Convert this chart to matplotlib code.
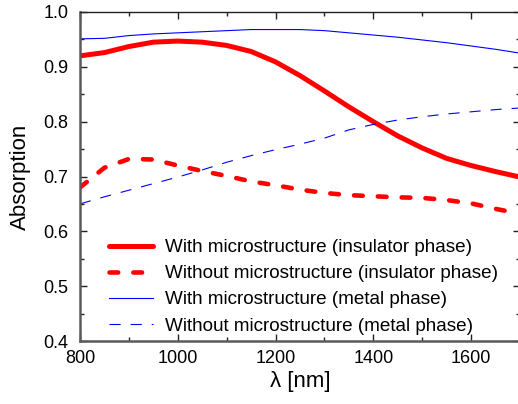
import matplotlib
matplotlib.use("Agg")
import matplotlib.pyplot as plt
from matplotlib.ticker import MultipleLocator, FormatStrFormatter

plt.rcParams['font.family'] = ['Liberation Sans', 'DejaVu Sans']

wavelength = [800, 850, 900, 950, 1000, 1050, 1100, 1150, 1200, 1250,
              1300, 1350, 1400, 1450, 1500, 1550, 1600, 1650, 1700]

with_micro_insulator = [0.920, 0.926, 0.937, 0.945, 0.947, 0.945, 0.939, 0.928, 0.909, 0.884,
                        0.856, 0.827, 0.800, 0.774, 0.752, 0.733, 0.720, 0.709, 0.699]
without_micro_insulator = [0.680, 0.716, 0.732, 0.731, 0.720, 0.710, 0.701, 0.691, 0.684, 0.676,
                           0.670, 0.666, 0.664, 0.662, 0.661, 0.657, 0.651, 0.641, 0.632]
with_micro_metal = [0.951, 0.952, 0.957, 0.960, 0.962, 0.964, 0.966, 0.968, 0.968, 0.968,
                    0.966, 0.962, 0.958, 0.954, 0.949, 0.944, 0.938, 0.932, 0.925]
without_micro_metal = [0.650, 0.663, 0.675, 0.687, 0.699, 0.712, 0.726, 0.738, 0.749, 0.759,
                       0.770, 0.785, 0.795, 0.803, 0.809, 0.814, 0.818, 0.822, 0.825]

labels = ["With microstructure (insulator phase)",
          "Without microstructure (insulator phase)",
          "With microstructure (metal phase)",
          "Without microstructure (metal phase)"]

fig = plt.figure(figsize=(5.18, 4.04), dpi=100)
# the right edge of the frame falls just past the canvas
ax = fig.add_axes([80/518, 63/404, 440/518, 329/404])

ax.plot(wavelength, with_micro_insulator, color='#ff0000', lw=3.6, label=labels[0],
        solid_capstyle='round', solid_joinstyle='round')
ax.plot(wavelength, without_micro_insulator, color='#ff0000', lw=3.3, label=labels[1],
        dashes=(1.9, 3.3), dash_capstyle='round', dash_joinstyle='round')
ax.plot(wavelength, with_micro_metal, color='#0000ff', lw=0.8, label=labels[2])
ax.plot(wavelength, without_micro_metal, color='#0000ff', lw=0.8, label=labels[3],
        dashes=(10, 9))

ax.set_xlim(800, 1700)
ax.set_ylim(0.4, 1.0)
ax.xaxis.set_major_locator(MultipleLocator(200))
ax.xaxis.set_minor_locator(MultipleLocator(100))
ax.yaxis.set_major_locator(MultipleLocator(0.1))
ax.yaxis.set_minor_locator(MultipleLocator(0.05))
ax.yaxis.set_major_formatter(FormatStrFormatter('%.1f'))

ax.tick_params(which='both', direction='in', top=True, right=True, labelsize=13,
               color='#222222', width=1.0)
ax.tick_params(which='major', length=5)
ax.tick_params(which='minor', length=3)
ax.tick_params(axis='x', which='major', pad=6.5)
ax.tick_params(axis='y', which='major', pad=8.5)

for side in ('left', 'bottom'):
    ax.spines[side].set_linewidth(1.8)
    ax.spines[side].set_color('#5a5a5a')
for side in ('top', 'right'):
    ax.spines[side].set_linewidth(1.0)
    ax.spines[side].set_color('#222222')

ax.set_xlabel('λ [nm]', fontsize=16, labelpad=3)
ax.set_ylabel('Absorption', fontsize=16, labelpad=9)

leg = ax.legend(loc='lower left', bbox_to_anchor=(0.028, -0.032), frameon=False,
                fontsize=13.6, handlelength=2.3, handletextpad=0.65, labelspacing=0.47)

fig.savefig('out.png', dpi=100)
